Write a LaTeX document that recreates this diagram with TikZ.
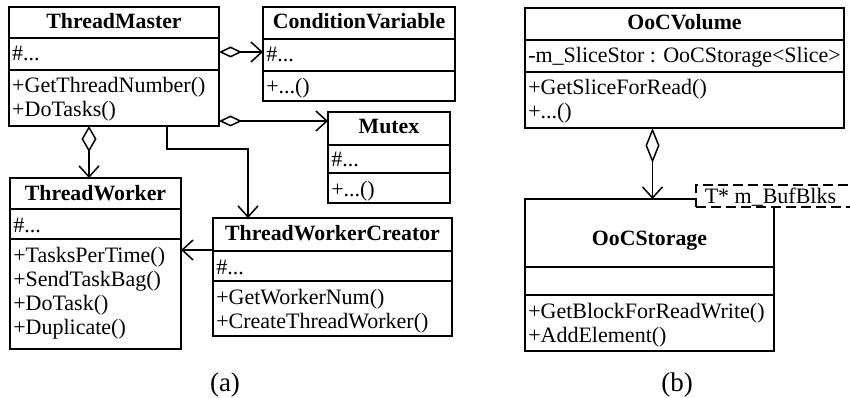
\documentclass[tikz,border=0pt]{standalone}
\usepackage{fontspec}
\setmainfont{Liberation Serif}
\usetikzlibrary{arrows.meta}
\begin{document}
\begin{tikzpicture}[x=1pt,y=-1pt,
  line width=1.5pt,
  cls/.style={draw, anchor=north west, inner sep=0pt, outer sep=0pt},
  ttl/.style={anchor=base, inner sep=0pt, font=\fontsize{21.8}{24}\selectfont\bfseries},
  txt/.style={anchor=base west, inner sep=0pt, font=\fontsize{22}{24}\selectfont},
  sublabel/.style={anchor=base, inner sep=0pt, font=\fontsize{27}{30}\selectfont},
  agg/.style 2 args={arrows={Diamond[open,length=#1,width=#2]-Straight Barb[length=11pt,width=20pt]}},
  dep/.style={-{Straight Barb[length=11pt,width=20pt]}},
  tmpl/.style={draw, dashed, dash pattern=on 10pt off 5pt, fill=white, anchor=north west, inner sep=0pt}
]
\useasboundingbox (0,0) rectangle (850,398);
\clip (0,0) rectangle (850,398);

% ---------- (a) thread classes ----------
% ThreadMaster
\node[cls, minimum width=210pt, minimum height=119pt] (tm) at (9,7) {};
\draw (9,38) -- (219,38) (9,70) -- (219,70);
\node[ttl] (tm-t) at (114,29) {ThreadMaster};
\node[txt] (tm-a) at (11.5,61) {\#...};
\node[txt] (tm-m1) at (11.5,93) {+GetThreadNumber()};
\node[txt] (tm-m2) at (11.5,117) {+DoTasks()};

% ConditionVariable
\node[cls, minimum width=192pt, minimum height=94pt] (cv) at (263,7) {};
\draw (263,39) -- (455,39) (263,71) -- (455,71);
\node[ttl] (cv-t) at (359,29) {ConditionVariable};
\node[txt] (cv-a) at (265.5,62) {\#...};
\node[txt] (cv-m) at (265.5,94) {+...()};

% Mutex
\node[cls, minimum width=122pt, minimum height=91pt] (mx) at (328,112) {};
\draw (328,145) -- (450,145) (328,173) -- (450,173);
\node[ttl] (mx-t) at (389,134) {Mutex};
\node[txt] (mx-a) at (330.5,167) {\#...};
\node[txt] (mx-m) at (330.5,196) {+...()};

% ThreadWorker
\node[cls, minimum width=171pt, minimum height=171pt] (tw) at (10,178) {};
\draw (10,209) -- (181,209) (10,239) -- (181,239);
\node[ttl] (tw-t) at (95.5,200) {ThreadWorker};
\node[txt] (tw-a) at (12.5,232) {\#...};
\node[txt] (tw-m1) at (12.5,262) {+TasksPerTime()};
\node[txt] (tw-m2) at (12.5,286) {+SendTaskBag()};
\node[txt] (tw-m3) at (12.5,310) {+DoTask()};
\node[txt] (tw-m4) at (12.5,334) {+Duplicate()};

% ThreadWorkerCreator
\node[cls, minimum width=239pt, minimum height=118pt] (twc) at (213,218) {};
\draw (213,251) -- (452,251) (213,281) -- (452,281);
\node[ttl] (twc-t) at (332.5,240) {ThreadWorkerCreator};
\node[txt] (twc-a) at (215.5,274) {\#...};
\node[txt] (twc-m1) at (215.5,304) {+GetWorkerNum()};
\node[txt] (twc-m2) at (215.5,328) {+CreateThreadWorker()};

% relations of (a)
\coordinate (c1) at ([yshift=2pt]cv.west);
\draw[agg={23pt}{11pt}] (c1 -| tm.east) -- (c1);
\coordinate (m1) at ([yshift=5pt]tm.south east);
\draw[agg={23pt}{11pt}] (m1) -- (m1 -| mx.west);
\draw[agg={26pt}{15pt}] ([xshift=-25pt]tm.south) coordinate (w1) -- (w1 |- tw.north);
\draw[dep] ([xshift=53pt]tm.south) -- ++(0,23) -| ([xshift=-84.5pt]twc.north);
\coordinate (p1) at ([yshift=-32pt]twc.north west);
\draw[dep] (p1) -- (p1 -| tw.east);

\node[sublabel] (capA) at (225,391) {(a)};

% ---------- (b) out-of-core storage ----------
% OoCVolume
\node[cls, minimum width=319pt, minimum height=120pt] (ov) at (525,8) {};
\draw (525,40) -- (844,40) (525,72) -- (844,72);
\node[ttl] (ov-t) at (684.5,30) {OoCVolume};
\node[txt] (ov-a) at (527.5,63) {-m\_SliceStor : OoCStorage<Slice>};
\node[txt] (ov-m1) at (527.5,95) {+GetSliceForRead()};
\node[txt] (ov-m2) at (527.5,119) {+...()};

% OoCStorage with its template parameter box
\node[cls, minimum width=249pt, minimum height=152pt] (os) at (525,199) {};
\draw (525,267) -- (774,267) (525,295) -- (774,295);
\node[ttl] (os-t) at (649.5,245) {OoCStorage};
\node[txt] (os-m1) at (527.5,318) {+GetBlockForReadWrite()};
\node[txt] (os-m2) at (527.5,342) {+AddElement()};
\node[tmpl, minimum width=170pt, minimum height=22pt] (tp) at (695,184) {};
\node[txt] (tp-t) at (704,203) {T* m\_BufBlks};

\coordinate (o1) at ([xshift=3pt]os.north);
\draw[agg={35pt}{14pt}] (o1 |- ov.south) -- (o1);

\node[sublabel] (capB) at (677,391) {(b)};
\end{tikzpicture}
\end{document}
